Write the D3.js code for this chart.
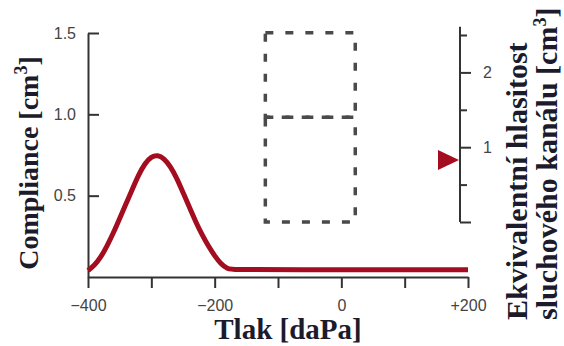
<!DOCTYPE html>
<html>
<head>
<meta charset="utf-8">
<script src="https://cdn.jsdelivr.net/npm/d3@7"></script>
<style>
  body { margin: 0; background: #fff; }
  svg { display: block; }
</style>
</head>
<body>
<script>
// tympanogram data
var pressure = [-400, -390, -380, -370, -360, -350, -340, -330, -320, -310, -300, -290,
                -280, -270, -260, -250, -240, -230, -220, -210, -200, -190, -180, -170, -100, 200];
var compliance = [0.04, 0.07, 0.12, 0.19, 0.27, 0.36, 0.45, 0.54, 0.63, 0.70, 0.74, 0.75,
                  0.73, 0.68, 0.61, 0.52, 0.43, 0.34, 0.26, 0.19, 0.13, 0.08, 0.05, 0.045, 0.045, 0.045];

var xTicks = [-400, -300, -200, -100, 0, 100, 200];
var xTickLabels = {"-400": "\u2212400", "-200": "\u2212200", "0": "0", "200": "+200"};
var yTicks = [0.5, 1.0, 1.5];
var volTicks = [0, 0.5, 1, 1.5, 2, 2.5];
var volLabels = {"1": "1", "2": "2"};

// ear canal volume marker and the dashed range boxes (pressure, volume)
var volumeMarker = 0.83;
var boxPressure = [-120, 22];
var boxVolume = [[0, 1.4], [1.4, 2.53]];

var width = 564, height = 346;

var svg = d3.select("body").append("svg")
  .attr("width", width)
  .attr("height", height);

var x = d3.scaleLinear().domain([-400, 200]).range([88, 468]);
var y = d3.scaleLinear().domain([0, 1.5]).range([277, 33]);
var yVol = d3.scaleLinear().domain([0, 2.5]).range([222, 35]);

var axisColor = "#333";
var tickFont = "'Liberation Sans', Arial, sans-serif";
var titleFont = "'Liberation Serif', 'Times New Roman', serif";
var titleColor = "#1b1b2b";

// dashed boxes
boxVolume.forEach(function (b) {
  svg.append("rect")
    .attr("x", x(boxPressure[0]))
    .attr("y", yVol(b[1]))
    .attr("width", x(boxPressure[1]) - x(boxPressure[0]))
    .attr("height", yVol(b[0]) - yVol(b[1]))
    .attr("fill", "none")
    .attr("stroke", "#4a4a4a")
    .attr("stroke-width", 3.5)
    .attr("stroke-dasharray", "8,12");
});

// left axis
var leftAxis = svg.append("g")
  .attr("transform", "translate(" + x(-400) + ",0)")
  .call(d3.axisLeft(y).tickValues(yTicks)
    .tickSizeInner(-11).tickSizeOuter(0).tickPadding(12)
    .tickFormat(d3.format(".1f")));

// bottom axis
var bottomAxis = svg.append("g")
  .attr("transform", "translate(0," + y(0) + ")")
  .call(d3.axisBottom(x).tickValues(xTicks)
    .tickSizeInner(11).tickSizeOuter(0).tickPadding(12)
    .tickFormat(function (d) { return xTickLabels[d] || ""; }));

// right axis (volume)
var rightAxis = svg.append("g")
  .attr("transform", "translate(460,0)")
  .call(d3.axisRight(yVol).tickValues(volTicks)
    .tickSizeInner(11).tickSizeOuter(0).tickPadding(12)
    .tickFormat(function (d) { return volLabels[d] || ""; }));

rightAxis.select(".domain").remove();
rightAxis.append("line")
  .attr("x1", 0).attr("x2", 0)
  .attr("y1", yVol(0)).attr("y2", yVol(2.61))
  .attr("stroke", axisColor).attr("stroke-width", 2);
rightAxis.selectAll(".tick line")
  .attr("x2", function (d) { return (d === 1 || d === 2 || d === 0) ? 11 : 7; });

[leftAxis, bottomAxis, rightAxis].forEach(function (g) {
  g.selectAll(".domain").attr("stroke", axisColor).attr("stroke-width", 2);
  g.selectAll(".tick line").attr("stroke", axisColor).attr("stroke-width", 2);
  g.selectAll(".tick text")
    .attr("fill", "#444")
    .style("font-family", tickFont)
    .style("font-size", "16px");
});

// compliance curve
var line = d3.line()
  .x(function (d, i) { return x(pressure[i]); })
  .y(function (d) { return y(d); })
  .curve(d3.curveBasis);

svg.append("path")
  .datum(compliance)
  .attr("d", line)
  .attr("fill", "none")
  .attr("stroke", "#a30d1f")
  .attr("stroke-width", 5)
  .attr("stroke-linejoin", "round");

// volume marker triangle
var ty = yVol(volumeMarker);
svg.append("path")
  .attr("d", d3.line()([[459, ty], [438, ty - 10], [438, ty + 10]]) + "Z")
  .attr("fill", "#a30d1f");

// axis titles
function titleWithSup(sel, main) {
  sel.append("tspan").text(main);
  sel.append("tspan").attr("dy", -11).style("font-size", "18px").text("3");
  sel.append("tspan").attr("dy", 11).text("]");
}

var leftTitle = svg.append("text")
  .attr("transform", "translate(38,163) rotate(-90)")
  .attr("text-anchor", "middle")
  .attr("fill", titleColor)
  .style("font-family", titleFont)
  .style("font-weight", "bold")
  .style("font-size", "28px");
titleWithSup(leftTitle, "Compliance [cm");

svg.append("text")
  .attr("x", 288).attr("y", 339)
  .attr("text-anchor", "middle")
  .attr("fill", titleColor)
  .style("font-family", titleFont)
  .style("font-weight", "bold")
  .style("font-size", "29px")
  .text("Tlak [daPa]");

svg.append("text")
  .attr("transform", "translate(527,320) rotate(-90)")
  .attr("fill", titleColor)
  .style("font-family", titleFont)
  .style("font-weight", "bold")
  .style("font-size", "30px")
  .text("Ekvivalentní hlasitost");

var rightTitle = svg.append("text")
  .attr("transform", "translate(557,320) rotate(-90)")
  .attr("fill", titleColor)
  .style("font-family", titleFont)
  .style("font-weight", "bold")
  .style("font-size", "30px");
titleWithSup(rightTitle, "sluchového kanálu [cm");
</script>
</body>
</html>
